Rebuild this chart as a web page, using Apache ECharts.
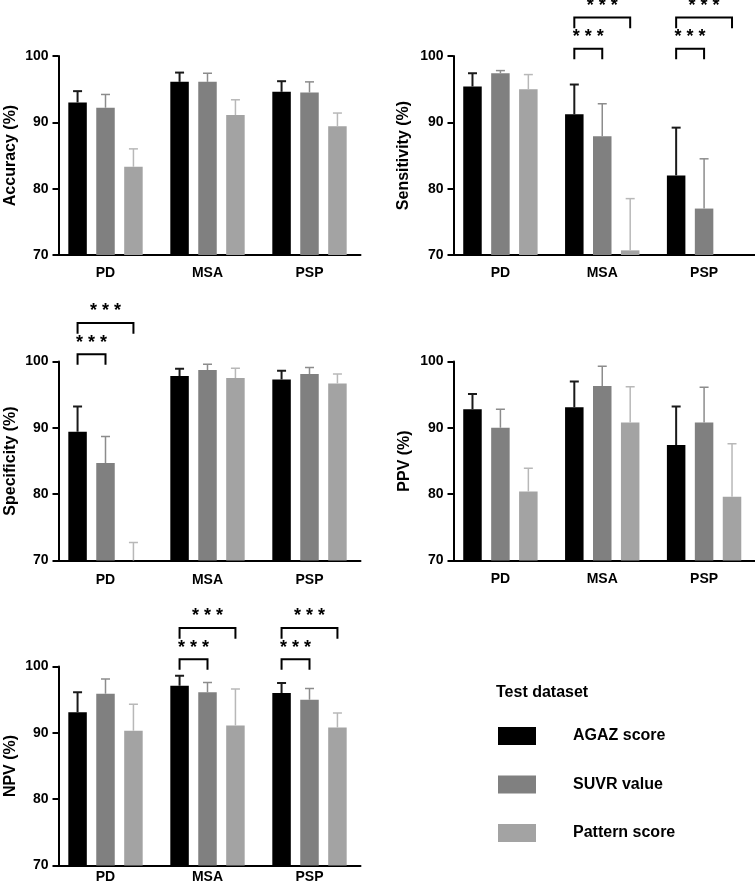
<!DOCTYPE html>
<html>
<head>
<meta charset="utf-8">
<script src="https://cdn.jsdelivr.net/npm/echarts@6/dist/echarts.min.js"></script>
<style>
  html, body { margin: 0; padding: 0; background: #fff; }
  #main { width: 755px; height: 891px; }
</style>
</head>
<body>
<div id="main"></div>
<script>
// 数据
var categories = ['PD', 'MSA', 'PSP'];
var methods = ['AGAZ score', 'SUVR value', 'Pattern score'];
var metricNames = ['Accuracy (%)', 'Sensitivity (%)', 'Specificity (%)', 'PPV (%)', 'NPV (%)'];
var yTicks = [70, 80, 90, 100];

// 每个方法一行: [PD, MSA, PSP]; null = 没有可见的柱子
var accuracyMean = [[93.0, 96.1, 94.6], [92.2, 96.1, 94.5], [83.3, 91.1, 89.4]];
var accuracyUpper = [[94.7, 97.5, 96.2], [94.2, 97.4, 96.1], [86.0, 93.4, 91.4]];
var sensitivityMean = [[95.4, 91.2, 82.0], [97.4, 87.9, 77.0], [95.0, 70.7, null]];
var sensitivityUpper = [[97.4, 95.7, 89.2], [97.8, 92.8, 84.5], [97.2, 78.5, null]];
var specificityMean = [[89.4, 97.8, 97.3], [84.7, 98.7, 98.1], [67.0, 97.5, 96.7]];
var specificityUpper = [[93.2, 98.9, 98.6], [88.7, 99.6, 99.1], [72.7, 99.0, 98.1]];
var ppvMean = [[92.8, 93.1, 87.4], [90.0, 96.3, 90.8], [80.4, 90.8, 79.6]];
var ppvUpper = [[95.1, 97.0, 93.2], [92.8, 99.3, 96.1], [83.9, 96.2, 87.6]];
var npvMean = [[93.1, 97.1, 96.0], [95.9, 96.1, 95.0], [90.3, 91.1, 90.8]];
var npvUpper = [[96.1, 98.6, 97.5], [98.1, 97.6, 96.7], [94.3, 96.6, 93.0]];

// 显著性括号: [类别, 从方法, 到方法, 括号高度]
var sensitivityBrackets = [[1, 0, 1, 101.1], [1, 0, 2, 105.8], [2, 0, 1, 101.1], [2, 0, 2, 105.8]];
var specificityBrackets = [[0, 0, 1, 101.1], [0, 0, 2, 105.8]];
var npvBrackets = [[1, 0, 1, 101.1], [1, 0, 2, 105.8], [2, 0, 1, 101.1], [2, 0, 2, 105.8]];
var starLabel = '* * *';

(function () {
  var myChart = echarts.init(document.getElementById('main'));
  var font = "'Liberation Sans', Arial, sans-serif";
  var barColors = ['#000000', '#808080', '#a3a3a3'];
  var errColors = ['#1a1a1a', '#8c8c8c', '#b8b8b8'];
  var errWidths = [2, 1.5, 1.5];
  var barWidth = 18.5;
  var gapRatio = 0.51;
  var pitch = barWidth * (1 + gapRatio);

  var panels = [
    { mean: accuracyMean, upper: accuracyUpper, brackets: [], box: { left: 54.5, top: 56, width: 306, height: 199 }, labelMargin: 11, nameGap: 40 },
    { mean: sensitivityMean, upper: sensitivityUpper, brackets: sensitivityBrackets, box: { left: 449.5, top: 56, width: 306, height: 199 }, labelMargin: 11, nameGap: 42 },
    { mean: specificityMean, upper: specificityUpper, brackets: specificityBrackets, box: { left: 54.5, top: 361.5, width: 306, height: 199 }, labelMargin: 13, nameGap: 40 },
    { mean: ppvMean, upper: ppvUpper, brackets: [], box: { left: 449.5, top: 361.5, width: 306, height: 199 }, labelMargin: 11.5, nameGap: 41 },
    { mean: npvMean, upper: npvUpper, brackets: npvBrackets, box: { left: 54.5, top: 666.5, width: 306, height: 199 }, labelMargin: 5, nameGap: 40 }
  ];

  var grids = [], xAxes = [], yAxes = [], series = [];

  panels.forEach(function (p, i) {
    grids.push(p.box);
    xAxes.push({
      type: 'category',
      gridIndex: i,
      data: categories,
      axisLine: { lineStyle: { color: '#000', width: 2 } },
      axisTick: { alignWithLabel: true, length: 6, lineStyle: { color: '#000', width: 2 } },
      axisLabel: { color: '#000', fontFamily: font, fontWeight: 'bold', fontSize: 14, margin: p.labelMargin },
      splitLine: { show: false }
    });
    yAxes.push({
      type: 'value',
      gridIndex: i,
      min: yTicks[0],
      max: yTicks[yTicks.length - 1],
      interval: 10,
      offset: -4,
      name: metricNames[i],
      nameLocation: 'middle',
      nameGap: p.nameGap,
      nameTextStyle: { color: '#000', fontFamily: font, fontWeight: 'bold', fontSize: 16 },
      axisLine: { show: true, lineStyle: { color: '#000', width: 2 } },
      axisTick: { show: true, length: 6, lineStyle: { color: '#000', width: 2 } },
      axisLabel: { color: '#000', fontFamily: font, fontWeight: 'bold', fontSize: 14, margin: 10 },
      splitLine: { show: false }
    });

    // 柱子
    methods.forEach(function (m, k) {
      series.push({
        name: m,
        type: 'bar',
        xAxisIndex: i,
        yAxisIndex: i,
        barWidth: barWidth,
        barGap: (gapRatio * 100) + '%',
        data: p.mean[k],
        itemStyle: { color: barColors[k] },
        z: 2
      });
    });

    // 误差线
    var errData = [];
    methods.forEach(function (m, k) {
      categories.forEach(function (c, j) {
        if (p.mean[k][j] != null) errData.push([j, k, p.mean[k][j], p.upper[k][j]]);
      });
    });
    series.push({
      type: 'custom',
      xAxisIndex: i,
      yAxisIndex: i,
      clip: true,
      silent: true,
      z: 3,
      data: errData,
      renderItem: function (params, api) {
        var k = api.value(1);
        var base = api.coord([api.value(0), api.value(2)]);
        var top = api.coord([api.value(0), api.value(3)]);
        var x = base[0] + (k - 1) * pitch;
        var st = { stroke: errColors[k], lineWidth: errWidths[k] };
        return {
          type: 'group',
          children: [
            { type: 'line', shape: { x1: x, y1: base[1], x2: x, y2: top[1] }, style: st },
            { type: 'line', shape: { x1: x - 4.5, y1: top[1], x2: x + 4.5, y2: top[1] }, style: st }
          ]
        };
      }
    });

    // 显著性括号
    if (p.brackets.length) {
      series.push({
        type: 'custom',
        xAxisIndex: i,
        yAxisIndex: i,
        clip: false,
        silent: true,
        z: 4,
        data: p.brackets,
        renderItem: function (params, api) {
          var c = api.value(0);
          var lvl = api.value(3);
          var top = api.coord([c, lvl]);
          var leg = api.coord([c, lvl - 1.6]);
          var star = api.coord([c, lvl + 1.75]);
          var x1 = top[0] + (api.value(1) - 1) * pitch;
          var x2 = top[0] + (api.value(2) - 1) * pitch;
          return {
            type: 'group',
            children: [
              { type: 'polyline', shape: { points: [[x1, leg[1]], [x1, top[1]], [x2, top[1]], [x2, leg[1]]] },
                style: { stroke: '#000', lineWidth: 2, fill: null } },
              { type: 'text', x: (x1 + x2) / 2, y: star[1],
                style: { text: starLabel, fill: '#000', font: 'bold 18px ' + font, align: 'center', verticalAlign: 'middle' } }
            ]
          };
        }
      });
    }
  });

  var option = {
    animation: false,
    backgroundColor: '#fff',
    title: {
      text: 'Test dataset',
      left: 496,
      top: 685,
      padding: 0,
      textStyle: { color: '#000', fontFamily: font, fontWeight: 'bold', fontSize: 16 }
    },
    legend: {
      data: methods,
      orient: 'vertical',
      left: 498,
      top: 727,
      padding: 0,
      icon: 'rect',
      itemWidth: 38,
      itemHeight: 18,
      itemGap: 30.5,
      selectedMode: false,
      textStyle: { color: '#000', fontFamily: font, fontWeight: 'bold', fontSize: 16, padding: [0, 0, 0, 32] }
    },
    grid: grids,
    xAxis: xAxes,
    yAxis: yAxes,
    series: series
  };

  myChart.setOption(option);
  window.addEventListener('resize', function () {
    myChart.resize();
  });
})();
</script>
</body>
</html>
